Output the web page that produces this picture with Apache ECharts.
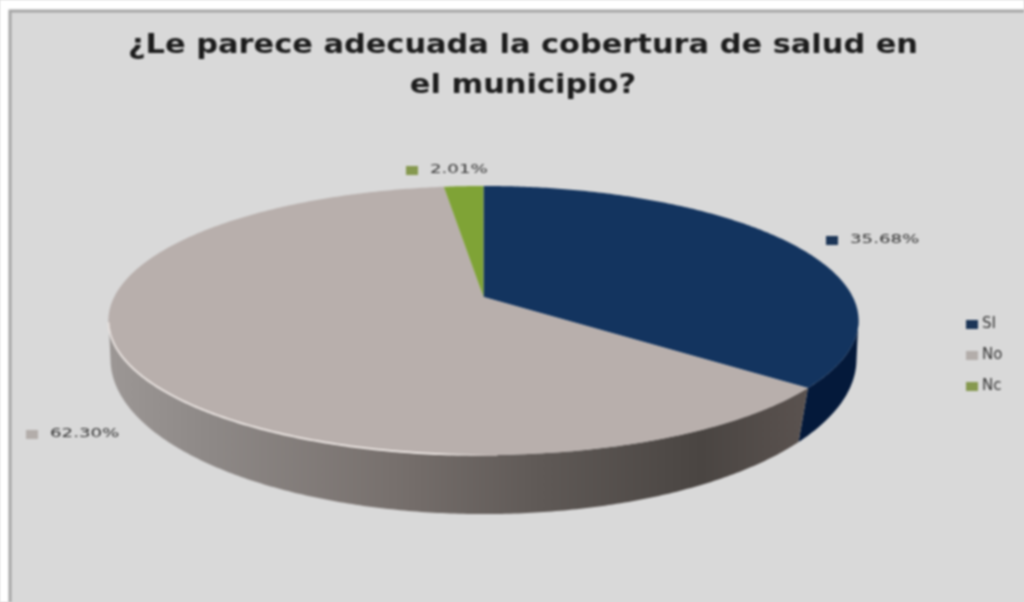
<!DOCTYPE html>
<html><head><meta charset="utf-8">
<style>html,body{margin:0;padding:0;background:#d9d9d9;overflow:hidden}#chart{width:1024px;height:602px;filter:blur(0.8px)}</style>
<script src="https://cdn.jsdelivr.net/npm/echarts@6/dist/echarts.min.js"></script>
</head><body><div id="chart"></div>
<script>
const titleLines = ['¿Le parece adecuada la cobertura de salud en', 'el municipio?'];
const categories = ['SI', 'No', 'Nc'];
const values = [35.68, 62.30, 2.01];
const topColors = ['#13345f', '#b8afac', '#7fa336'];
const legendColors = ['#1c3557', '#b3adaa', '#86994f'];
const labelAnchors = [[826, 240], [26, 434], [406, 170]];

// pie geometry: a tilted disc under perspective, upper rim and lower rim
const upper = {cx: 483.5, cy: 297, a: 369.3, b: 130.4, k: -0.1747};
const lower = {cx: 483.5, cy: 339, a: 369.8, b: 152.3, k: -0.13};
const total = values.reduce((s, v) => s + v, 0);
const startOf = i => values.slice(0, i).reduce((s, v) => s + v, 0) / total * Math.PI * 2;

function rim(t, d) {
  const u = Math.sin(t), v = -Math.cos(t), w = 1 + d.k * v;
  return [d.cx + d.a * u / w, d.cy + d.b * v / w];
}
function arcPoints(t0, t1, d) {
  const n = Math.max(2, Math.ceil(Math.abs(t1 - t0) / 0.01));
  const pts = [];
  for (let i = 0; i <= n; i++) pts.push(rim(t0 + (t1 - t0) * i / n, d));
  return pts;
}
const wallGradient = {type: 'linear', x: 108, y: 0, x2: 806, y2: 0, global: true, colorStops: [
  {offset: 0, color: '#9c9795'}, {offset: 0.13, color: '#8f8a88'}, {offset: 0.4, color: '#78716e'},
  {offset: 0.62, color: '#5f5956'}, {offset: 0.85, color: '#4a4542'}, {offset: 1, color: '#5a524f'}]};
const rimGradient = {type: 'linear', x: 108, y: 0, x2: 490, y2: 0, global: true, colorStops: [
  {offset: 0, color: '#e6e0dd'}, {offset: 0.85, color: '#ebe5e2'}, {offset: 1, color: '#b8afac'}]};

function makeRender(i) {
  return function () {
    const t0 = startOf(i), t1 = t0 + values[i] / total * Math.PI * 2;
    const children = [];
    const w0 = Math.max(t0, Math.PI * 0.55), w1 = Math.min(t1, Math.PI * 1.45);
    if (w1 > w0) {
      const pts = arcPoints(w0, w1, upper).concat(arcPoints(w1, w0, lower));
      children.push({type: 'polygon', z2: 1, shape: {points: pts},
        style: {fill: i === 0 ? '#04193a' : wallGradient}});
    }
    const top = [[upper.cx, upper.cy]].concat(arcPoints(t0, t1, upper));
    children.push({type: 'polygon', z2: 5, shape: {points: top}, style: {fill: topColors[i]}});
    const h0 = Math.max(t0, Math.PI * 0.99), h1 = Math.min(t1, Math.PI * 1.44);
    if (h1 > h0) {
      children.push({type: 'polyline', z2: 6, shape: {points: arcPoints(h0, h1, upper)},
        style: {fill: 'none', stroke: rimGradient, lineWidth: 2}});
    }
    const [lx, ly] = labelAnchors[i];
    children.push({type: 'rect', z2: 10, shape: {x: lx, y: ly - 4, width: 12, height: 9},
      style: {fill: legendColors[i]}});
    children.push({type: 'text', z2: 10, x: lx + 24, y: ly, scaleX: 1.4,
      style: {text: values[i].toFixed(2) + '%', fill: '#333333',
        font: '13px "DejaVu Sans"', verticalAlign: 'middle', align: 'left'}});
    return {type: 'group', children};
  };
}

const chart = echarts.init(document.getElementById('chart'), null, {renderer: 'canvas'});
chart.setOption({
  animation: false,
  backgroundColor: '#ffffff',
  graphic: [
    {type: 'rect', z: -1, shape: {x: 10, y: 11, width: 1030, height: 610},
      style: {fill: '#d9d9d9', stroke: '#a6a6a6', lineWidth: 3}}
  ].concat(titleLines.map((line, i) => ({
    type: 'text', x: 523, y: 46 + i * 40, scaleX: 1.17,
    style: {text: line, font: 'bold 26px "DejaVu Sans"', fill: '#1c1c1c', align: 'center', verticalAlign: 'middle'}
  }))),
  legend: {
    orient: 'vertical', left: 961, top: 312, itemWidth: 12, itemHeight: 9, itemGap: 16,
    data: categories.map(name => ({name, icon: 'rect'})),
    textStyle: {fontFamily: 'DejaVu Sans', fontSize: 15, color: '#333333', padding: [0, 0, 0, -1]}
  },
  series: categories.map((name, i) => ({
    type: 'custom', name, coordinateSystem: 'none', data: [values[i]],
    itemStyle: {color: legendColors[i]},
    renderItem: makeRender(i)
  }))
});
</script></body></html>
